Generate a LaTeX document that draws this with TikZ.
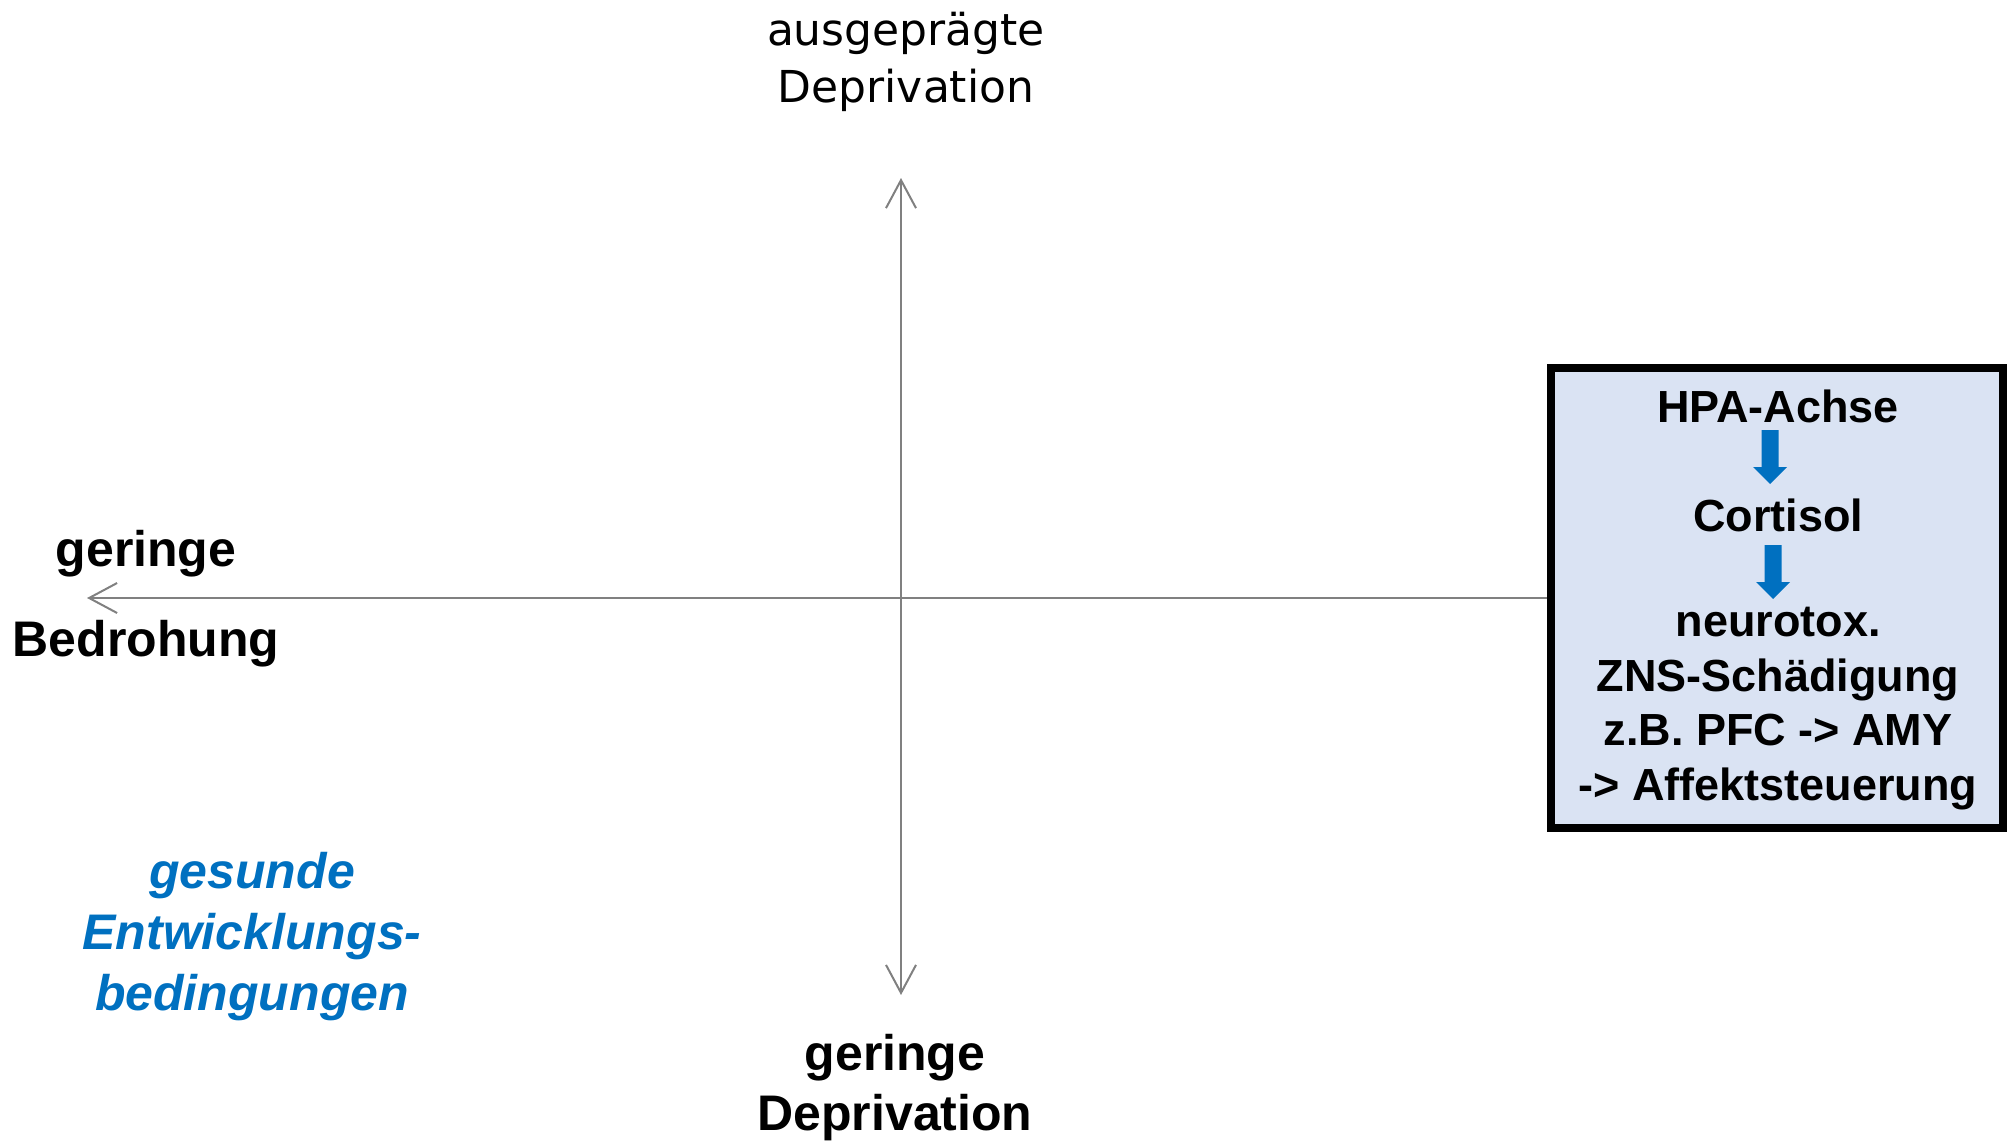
\documentclass[tikz,border=0pt]{standalone}
\usepackage{fontspec}
\setmainfont{Liberation Sans}
\newfontfamily\topfont{DejaVu Sans}
\usetikzlibrary{arrows.meta}
\definecolor{axisgray}{HTML}{808080}
\definecolor{accentblue}{HTML}{0070C0}
\definecolor{boxfill}{HTML}{DAE3F3}
\tikzset{
  axis/.style={draw=axisgray, line width=2pt, {Straight Barb[length=28pt,width=30pt,line width=2pt]}-{Straight Barb[length=28pt,width=30pt,line width=2pt]}},
  axisone/.style={draw=axisgray, line width=2pt, -{Straight Barb[length=28pt,width=30pt,line width=2pt]}},
  lbl/.style={inner sep=0pt, anchor=base, align=center, font=\fontsize{50}{60}\selectfont\bfseries},
  toplbl/.style={inner sep=0pt, anchor=base, align=center, font=\topfont\fontsize{44}{57}\selectfont},
  boxtxt/.style={inner sep=0pt, anchor=base, align=center, font=\fontsize{45}{54.5}\selectfont\bfseries},
  bluelbl/.style={inner sep=0pt, anchor=base, align=center, text=accentblue, font=\fontsize{50}{61}\selectfont\bfseries\itshape},
  flowarrow/.style={fill=accentblue, draw=none}
}
\begin{document}
\begin{tikzpicture}[x=1pt,y=-1pt]
\useasboundingbox (0,0) rectangle (2013,1141);
% box
\node[draw=black, fill=boxfill, line width=8pt, minimum width=452pt, minimum height=460pt, inner sep=0pt] (box) at (1777,598) {};
% axes
\coordinate (top) at (901,178);
\coordinate (bot) at (901,995);
\coordinate (left) at (87,598);
\draw[axis] (bot) -- (top);
\draw[axisone] (box.west) -- (left);
% labels (base anchor = baseline of the last line)
\node[toplbl] (ausg) at (906,102) {ausgeprägte\\Deprivation};
\node[lbl] (gerD) at (895,1130) {geringe\\Deprivation};
\node[lbl] (gerB1) at (146,566) {geringe};
\node[lbl] (gerB2) at (146,656) {Bedrohung};
\node[bluelbl] (ges) at (252,1010) {gesunde\\Entwicklungs-\\bedingungen};
% box contents
\node[boxtxt] (hpa) at (1778,422) {HPA-Achse};
\node[boxtxt] (cort) at (1778,531) {Cortisol};
\node[boxtxt] (neuro) at (1778,800) {neurotox.\\ZNS-Schädigung\\z.B. PFC -> AMY\\-> Affektsteuerung};
\fill[flowarrow] (1761.5,430) -- (1778.5,430) -- (1778.5,467) -- (1787,467) -- (1770,484) -- (1753,467) -- (1761.5,467) -- cycle;
\fill[flowarrow] (1764.5,545) -- (1781.5,545) -- (1781.5,582) -- (1790,582) -- (1773,599) -- (1756,582) -- (1764.5,582) -- cycle;
\end{tikzpicture}
\end{document}
